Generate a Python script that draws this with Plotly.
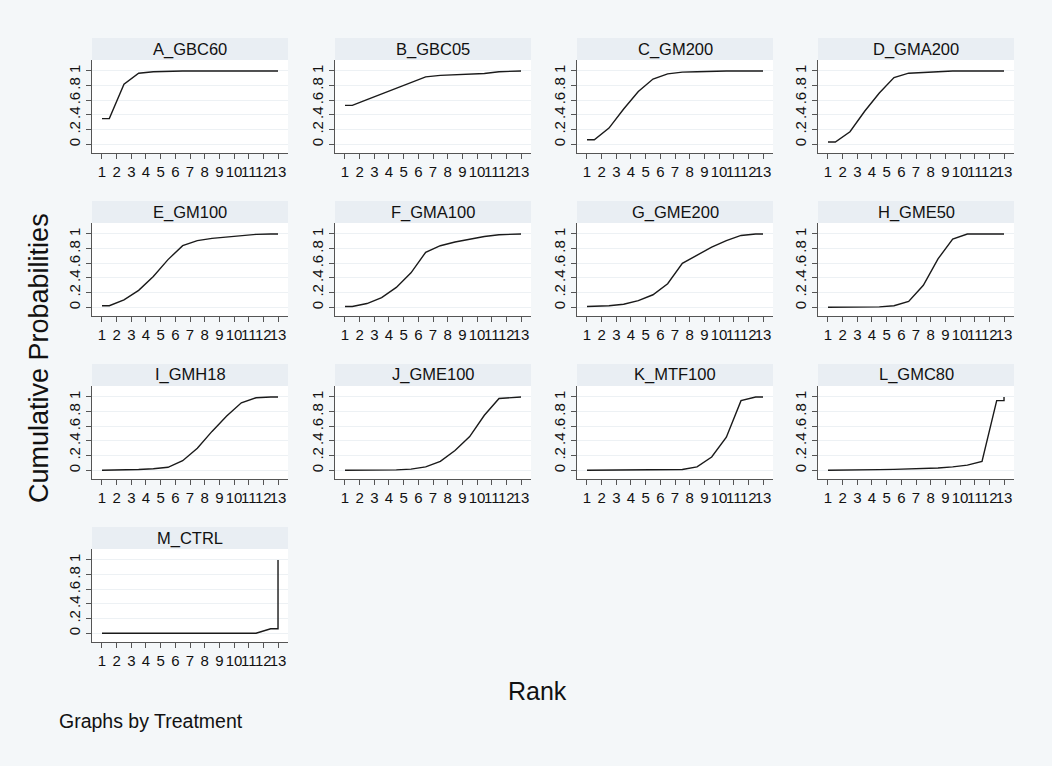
import plotly.graph_objects as go

# rank positions at which the cumulative probabilities are drawn
rank_x = [1, 1.5, 2.5, 3.5, 4.5, 5.5, 6.5, 7.5, 8.5, 9.5, 10.5, 11.5, 12.5, 13, 13]

treatments = ['A_GBC60', 'B_GBC05', 'C_GM200', 'D_GMA200',
              'E_GM100', 'F_GMA100', 'G_GME200', 'H_GME50',
              'I_GMH18', 'J_GME100', 'K_MTF100', 'L_GMC80',
              'M_CTRL']

a_gbc60 = [0.35, 0.35, 0.82, 0.97, 0.99, 1.0, 1.0, 1.0, 1.0, 1.0, 1.0, 1.0, 1.0, 1.0, 1.0]
b_gbc05 = [0.53, 0.53, 0.61, 0.69, 0.76, 0.84, 0.92, 0.94, 0.945, 0.955, 0.965, 0.99, 1.0, 1.0, 1.0]
c_gm200 = [0.06, 0.06, 0.22, 0.48, 0.72, 0.89, 0.96, 0.985, 0.99, 1.0, 1.0, 1.0, 1.0, 1.0, 1.0]
d_gma200 = [0.03, 0.03, 0.17, 0.45, 0.70, 0.91, 0.97, 0.985, 0.99, 1.0, 1.0, 1.0, 1.0, 1.0, 1.0]
e_gm100 = [0.02, 0.02, 0.10, 0.23, 0.42, 0.65, 0.84, 0.91, 0.94, 0.96, 0.98, 0.995, 1.0, 1.0, 1.0]
f_gma100 = [0.01, 0.01, 0.05, 0.13, 0.27, 0.47, 0.75, 0.84, 0.89, 0.93, 0.965, 0.99, 1.0, 1.0, 1.0]
g_gme200 = [0.01, 0.01, 0.02, 0.04, 0.09, 0.17, 0.32, 0.60, 0.71, 0.82, 0.91, 0.98, 1.0, 1.0, 1.0]
h_gme50 = [0.0, 0.0, 0.0, 0.0, 0.005, 0.02, 0.08, 0.30, 0.66, 0.93, 1.0, 1.0, 1.0, 1.0, 1.0]
i_gmh18 = [0.0, 0.0, 0.003, 0.01, 0.02, 0.04, 0.13, 0.30, 0.53, 0.74, 0.92, 0.99, 1.0, 1.0, 1.0]
j_gme100 = [0.0, 0.0, 0.0, 0.0, 0.005, 0.015, 0.045, 0.12, 0.27, 0.46, 0.75, 0.98, 1.0, 1.0, 1.0]
k_mtf100 = [0.0, 0.0, 0.0, 0.0, 0.0, 0.0, 0.002, 0.01, 0.045, 0.18, 0.45, 0.95, 1.0, 1.0, 1.0]
l_gmc80 = [0.0, 0.0, 0.002, 0.005, 0.008, 0.012, 0.015, 0.02, 0.03, 0.045, 0.07, 0.12, 0.95, 0.95, 1.0]
m_ctrl = [0.0, 0.0, 0.0, 0.0, 0.0, 0.0, 0.0, 0.0, 0.0, 0.0, 0.0, 0.0, 0.06, 0.06, 1.0]

series = [a_gbc60, b_gbc05, c_gm200, d_gma200, e_gm100, f_gma100, g_gme200,
          h_gme50, i_gmh18, j_gme100, k_mtf100, l_gmc80, m_ctrl]

x_ticks = list(range(1, 14))
y_ticks = [0, 0.2, 0.4, 0.6, 0.8, 1]
y_labels = ['0', '.2', '.4', '.6', '.8', '1']

W, H = 1052, 766
col_left = [92, 335, 577, 818]
panel_w = 196
row_top = [38, 201, 364, 527]
strip_h = 22
plot_h = 93

BG = '#f4f7f9'
STRIP = '#e9eef3'
AX = '#555555'
FONT = 'Liberation Sans, Arial, sans-serif'

fig = go.Figure()
shapes = []
annotations = []

for i, (name, vals) in enumerate(zip(treatments, series)):
    r, c = divmod(i, 4)
    n = i + 1
    xa = 'xaxis' if n == 1 else f'xaxis{n}'
    ya = 'yaxis' if n == 1 else f'yaxis{n}'
    left = col_left[c]
    top = row_top[r]
    x0, x1 = left / W, (left + panel_w) / W
    y_plot_top = 1 - (top + strip_h) / H
    y_plot_bot = 1 - (top + strip_h + plot_h) / H

    fig.add_trace(go.Scatter(
        x=rank_x, y=vals, mode='lines',
        line=dict(color='#1a1a1a', width=1.4),
        xaxis=f'x{n}' if n > 1 else 'x', yaxis=f'y{n}' if n > 1 else 'y',
        showlegend=False, hoverinfo='skip'))

    fig.layout[xa] = dict(
        domain=[x0, x1], anchor=f'y{n}' if n > 1 else 'y',
        range=[0.32, 13.68], tickmode='array', tickvals=x_ticks,
        tickangle=0, ticks='outside', ticklen=5, tickcolor=AX, showline=True,
        linecolor=AX, linewidth=1, showgrid=False, zeroline=False,
        tickfont=dict(size=15, color='#111', family=FONT), fixedrange=True)
    fig.layout[ya] = dict(
        domain=[y_plot_bot, y_plot_top], anchor=f'x{n}' if n > 1 else 'x',
        range=[-0.12, 1.15], tickmode='array', tickvals=y_ticks,
        ticktext=y_labels, tickangle=-90, ticks='outside', ticklen=5,
        tickcolor=AX, showline=True, linecolor=AX, linewidth=1,
        showgrid=True, gridcolor='#edf1f4', gridwidth=1, zeroline=False,
        tickfont=dict(size=15, color='#111', family=FONT), fixedrange=True)

    # white plot area
    shapes.append(dict(type='rect', xref='paper', yref='paper', layer='below',
                       x0=x0, x1=x1, y0=y_plot_bot, y1=y_plot_top,
                       fillcolor='white', line=dict(width=0)))
    # title strip
    shapes.append(dict(type='rect', xref='paper', yref='paper', layer='below',
                       x0=x0, x1=x1, y0=y_plot_top, y1=1 - top / H,
                       fillcolor=STRIP, line=dict(width=0)))
    annotations.append(dict(text=name, xref='paper', yref='paper',
                            x=(x0 + x1) / 2, y=1 - (top + strip_h / 2) / H,
                            xanchor='center', yanchor='middle', showarrow=False,
                            font=dict(size=16.5, color='#111', family=FONT)))

annotations.append(dict(text='Cumulative Probabilities', xref='paper', yref='paper',
                        x=39 / W, y=1 - 358 / H, textangle=-90, showarrow=False,
                        xanchor='center', yanchor='middle',
                        font=dict(size=27, color='#111', family=FONT)))
annotations.append(dict(text='Rank', xref='paper', yref='paper',
                        x=537 / W, y=1 - 691 / H, showarrow=False,
                        xanchor='center', yanchor='middle',
                        font=dict(size=25, color='#111', family=FONT)))
annotations.append(dict(text='Graphs by Treatment', xref='paper', yref='paper',
                        x=57 / W, y=1 - 721 / H, showarrow=False,
                        xanchor='left', yanchor='middle',
                        font=dict(size=19.5, color='#111', family=FONT)))

fig.update_layout(
    width=W, height=H, margin=dict(l=0, r=0, t=0, b=0),
    paper_bgcolor=BG, plot_bgcolor='white',
    shapes=shapes, annotations=annotations, showlegend=False)

fig.write_html('out.html', config={'displayModeBar': False},
               post_script="document.body.style.margin='0';")
